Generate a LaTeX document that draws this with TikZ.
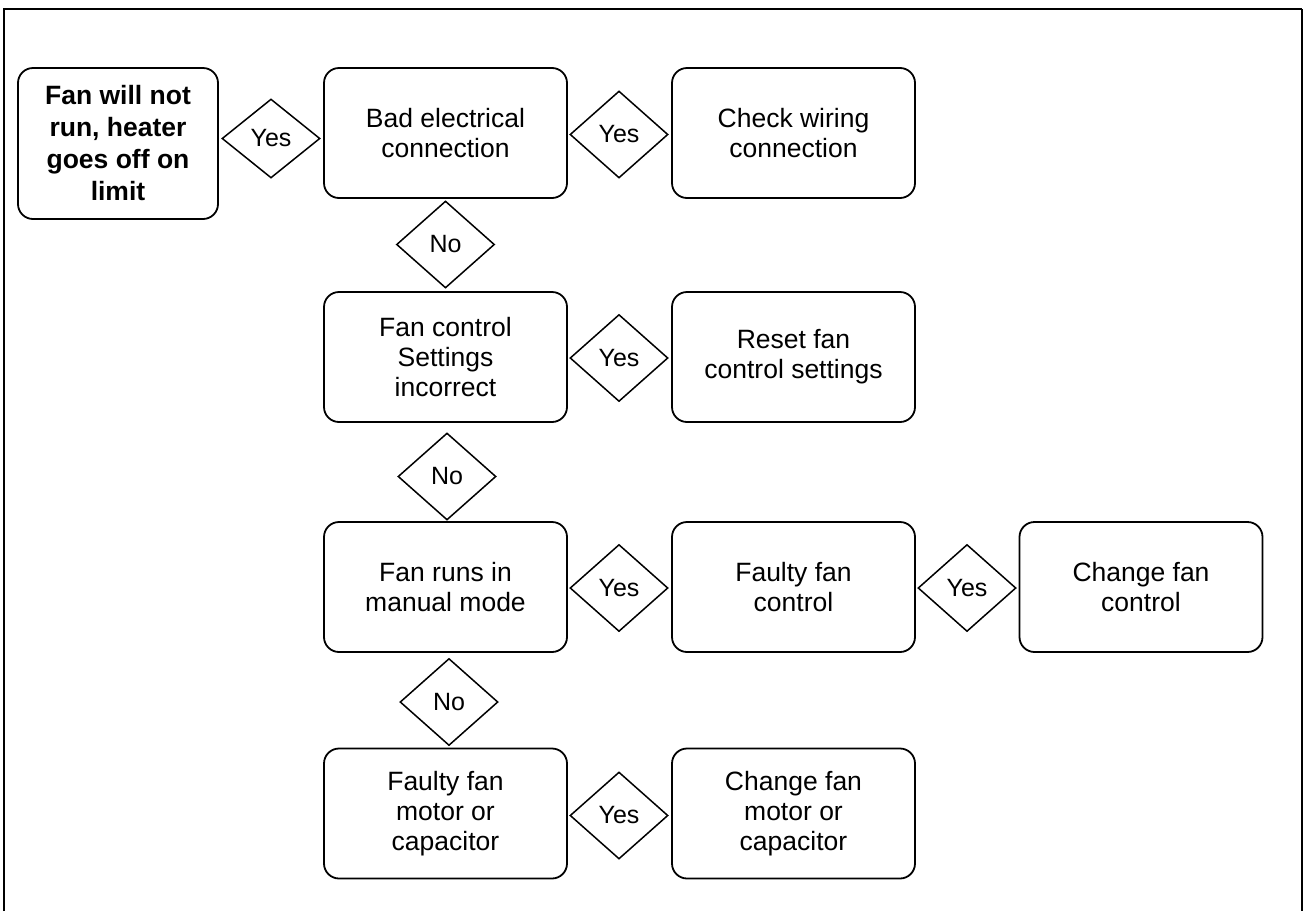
\documentclass[tikz,border=0pt]{standalone}
\usepackage{fontspec}
\setmainfont{Liberation Sans}
\usetikzlibrary{shapes.geometric}
\begin{document}
\begin{tikzpicture}[x=1pt,y=-1pt,
  box/.style={draw,line width=1.8pt,rounded corners=15pt,minimum width=243pt,minimum height=130pt,inner sep=0pt,align=center,font=\fontsize{26.5}{30}\selectfont},
  dia/.style={draw,diamond,line width=1.5pt,minimum width=98pt,minimum height=87pt,inner sep=0pt,font=\fontsize{25}{28}\selectfont}]
\useasboundingbox (0,0) rectangle (1306,911);
\draw[line width=1.5pt] (4,911) -- (4,9) -- (1302,9);
\draw[line width=2.5pt] (1302,9) -- (1302,911);
% row 1
\node[box,minimum width=200pt,minimum height=151pt,font=\bfseries\fontsize{26.5}{32}\selectfont] (start) at (118,143.5) {Fan will not\\run, heater\\goes off on\\limit};
\node[dia,minimum height=79pt] (y1) at (271,138.5) {Yes};
\node[box] (bad) at (445.5,133) {Bad electrical\\connection};
\node[dia] (y2) at (619,134.5) {Yes};
\node[box] (wire) at (793.5,133) {Check wiring\\connection};
\node[dia] (n1) at (445.5,244.5) {No};
% row 2
\node[box] (set) at (445.5,357) {Fan control\\Settings\\incorrect};
\node[dia] (y3) at (619,358) {Yes};
\node[box] (reset) at (793.5,357) {Reset fan\\control settings};
\node[dia] (n2) at (447,476.5) {No};
% row 3
\node[box] (man) at (445.5,587) {Fan runs in\\manual mode};
\node[dia] (y4) at (619,588) {Yes};
\node[box] (ffc) at (793.5,587) {Faulty fan\\control};
\node[dia] (y5) at (967,588) {Yes};
\node[box] (cfc) at (1141,587) {Change fan\\control};
\node[dia] (n3) at (449,702) {No};
% row 4
\node[box] (ffm) at (445.5,813.5) {Faulty fan\\motor or\\capacitor};
\node[dia] (y6) at (619,815.5) {Yes};
\node[box] (cfm) at (793.5,813.5) {Change fan\\motor or\\capacitor};
\end{tikzpicture}
\end{document}
